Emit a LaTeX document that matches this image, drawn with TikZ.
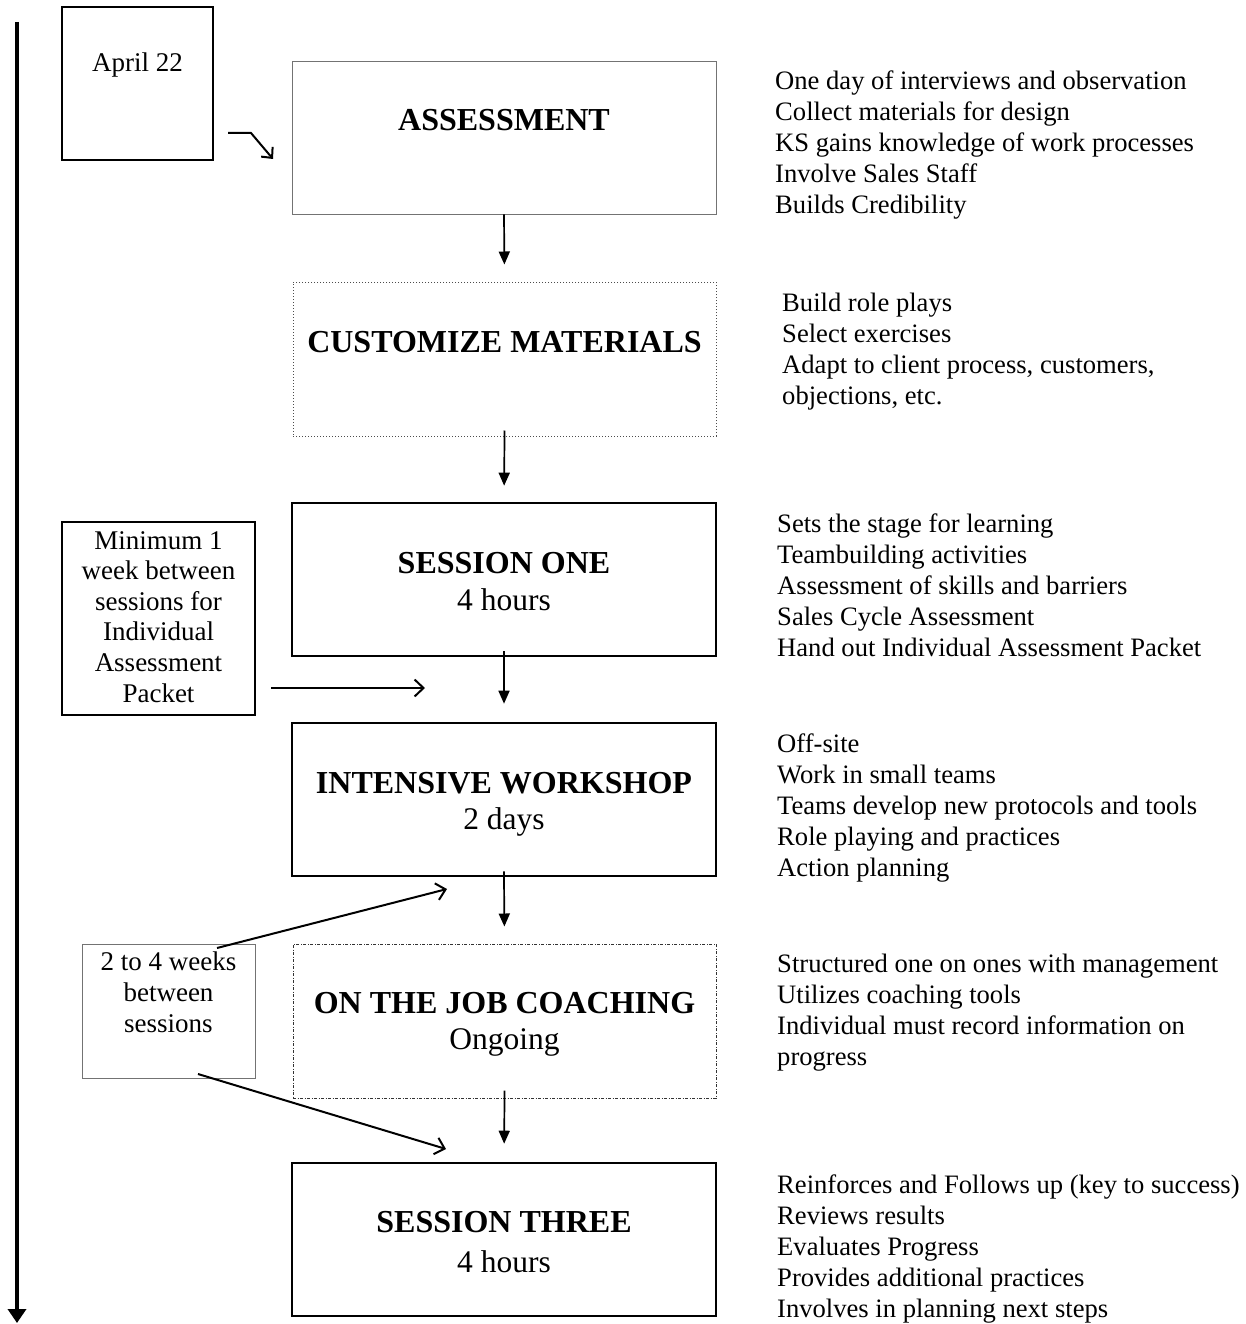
\documentclass[tikz,border=0pt]{standalone}
\usepackage{fontspec}
\setmainfont{Liberation Serif}
\usetikzlibrary{arrows.meta}
\begin{document}
\begin{tikzpicture}[x=1pt,y=-1pt,
  thickbox/.style={draw=black,line width=2.6pt,minimum width=424pt,minimum height=153pt,inner sep=0pt},
  thinbox/.style={draw=black!55,line width=0.9pt,minimum width=424pt,minimum height=153pt,inner sep=0pt},
  dotbox/.style={draw=black!70,line width=1pt,dotted,minimum width=423pt,minimum height=154pt,inner sep=0pt},
  dashdotbox/.style={draw=black!80,line width=1pt,dash pattern=on 3pt off 1.5pt on 1pt off 1.5pt,minimum width=423pt,minimum height=154pt,inner sep=0pt},
  head/.style={font=\fontsize{32}{38}\selectfont\bfseries,inner sep=0pt,anchor=center},
  sub/.style={font=\fontsize{31.5}{38}\selectfont,inner sep=0pt,anchor=center},
  side/.style={font=\fontsize{26.6}{31}\selectfont,align=left,inner sep=0pt,anchor=base west},
  note/.style={font=\fontsize{27}{30.6}\selectfont,align=center,inner sep=0pt},
  varrow/.style={line width=1.7pt,-{Triangle[length=13pt,width=11pt]}},
  oarrow/.style={line width=2pt,-{Straight Barb[length=9pt,width=17pt,line width=2pt]}}
]
\useasboundingbox (0,0) rectangle (1246,1324);

% timeline
\coordinate (tl1) at (17,22);
\coordinate (tl2) at (17,1323);
\draw[line width=4pt,-{Triangle[length=14pt,width=18pt]}] (tl1) -- (tl2);

% April box
\node[draw,line width=2.2pt,minimum width=151pt,minimum height=153pt,inner sep=0pt] (apr) at (137.5,83.5) {};
\node[note,anchor=base] (aprt) at (137.5,72) {April 22};
\coordinate (b1) at (228,133);
\coordinate (b2) at (251,133);
\coordinate (b3) at (273,159);
\draw[line width=2pt,-{Straight Barb[length=8pt,width=15pt,line width=2pt]}] (b1) -- (b2) -- (b3);

% main boxes
\node[thinbox] (ass) at (504,137.5) {};
\node[head] at (504,120) {ASSESSMENT};

\node[dotbox] (cus) at (504.5,359) {};
\node[head] at (504.5,342) {CUSTOMIZE MATERIALS};

\node[thickbox] (s1) at (504,579.5) {};
\node[head] at (504,563) {SESSION ONE};
\node[sub] at (504,600) {4 hours};

\node[thickbox] (iw) at (504,799.5) {};
\node[head] at (504,783) {INTENSIVE WORKSHOP};
\node[sub] at (504,822) {2 days};

\node[dashdotbox] (oj) at (504.5,1021) {};
\node[head] at (504.5,1003) {ON THE JOB COACHING};
\node[sub] at (504.5,1042) {Ongoing};

\node[thickbox] (s3) at (504,1239.5) {};
\node[head] at (504,1222) {SESSION THREE};
\node[sub] at (504,1262) {4 hours};

% vertical arrows
\draw[varrow,shorten >=17pt] (ass.south) -- (cus.north);
\draw[varrow,shorten >=16pt,shorten <=-6pt] (cus.south) -- (s1.north);
\draw[varrow,shorten >=18pt,shorten <=-6pt] (s1.south) -- (iw.north);
\draw[varrow,shorten >=17pt,shorten <=-6pt] (iw.south) -- (oj.north);
\draw[varrow,shorten >=18pt,shorten <=-8pt] (oj.south) -- (s3.north);

% minimum box
\node[draw,line width=2.2pt,minimum width=193pt,minimum height=193pt,inner sep=0pt] (minb) at (158.5,618.5) {};
\node[note,anchor=north] at (158.5,531) {Minimum 1\\week between\\sessions for\\Individual\\Assessment\\Packet};
\coordinate (m1) at (271,688);
\coordinate (m2) at (425,688);
\draw[oarrow] (m1) -- (m2);

% 2 to 4 weeks box
\node[draw=black!55,line width=0.9pt,minimum width=173pt,minimum height=134pt,inner sep=0pt] (wk) at (168.5,1011.5) {};
\node[note,anchor=north] at (168.5,952) {2 to 4 weeks\\between\\sessions};
\coordinate (w1) at (217,948);
\coordinate (w2) at (447,889);
\coordinate (w3) at (198,1074);
\coordinate (w4) at (446,1149);
\draw[oarrow] (w1) -- (w2);
\draw[oarrow] (w3) -- (w4);

% side texts (anchored at the baseline of their last line)
\node[side] (t1) at (775,214) {One day of interviews and observation\\Collect materials for design\\KS gains knowledge of work processes\\Involve Sales Staff\\Builds Credibility};
\node[side] (t2) at (782,404) {Build role plays\\Select exercises\\Adapt to client process, customers,\\objections, etc.};
\node[side] (t3) at (777,656) {Sets the stage for learning\\Teambuilding activities\\Assessment of skills and barriers\\Sales Cycle Assessment\\Hand out Individual Assessment Packet};
\node[side] (t4) at (777,876) {Off-site\\Work in small teams\\Teams develop new protocols and tools\\Role playing and practices\\Action planning};
\node[side] (t5) at (777,1065) {Structured one on ones with management\\Utilizes coaching tools\\Individual must record information on\\progress};
\node[side] (t6) at (777,1317) {Reinforces and Follows up (key to success)\\Reviews results\\Evaluates Progress\\Provides additional practices\\Involves in planning next steps};
\end{tikzpicture}
\end{document}
